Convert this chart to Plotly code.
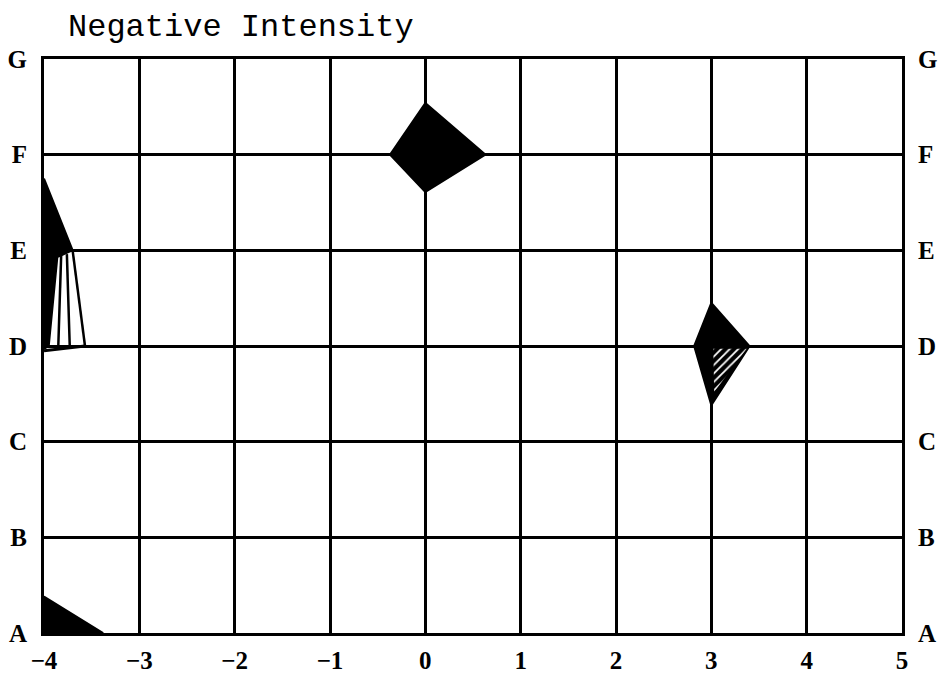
import plotly.graph_objects as go

# Axis categories and tick labels
x_ticks = [-4, -3, -2, -1, 0, 1, 2, 3, 4, 5]
y_levels = [0, 1, 2, 3, 4, 5, 6]
y_labels = ["A", "B", "C", "D", "E", "F", "G"]

# Diamond centred on (0, F)
diamond_f_x = [0.0, 0.63, 0.0, -0.37]
diamond_f_y = [5.54, 5.0, 4.61, 5.0]

# Diamond centred on (3, D)
diamond_d_x = [3.0, 3.40, 3.0, 2.82]
diamond_d_y = [3.45, 3.0, 2.38, 3.0]

# Hatched lower-right part of the D diamond
hatch_d_x = [3.02, 3.37, 3.03]
hatch_d_y = [2.97, 2.97, 2.52]

# Solid wedge on the left edge between E and D
wedge_e_x = [-4.0, -3.70, -3.86, -3.95, -4.0]
wedge_e_y = [4.75, 4.0, 3.93, 3.0, 2.97]

# Fan of strokes from E down to D on the left edge
fan_top_x = [-3.82, -3.76, -3.70]
fan_top_y = [3.95, 3.96, 4.0]
fan_bot_x = [-3.85, -3.73, -3.57]
fan_bot_y = [3.0, 3.0, 3.0]

# Base stroke of the fan
base_x = [-4.0, -3.57]
base_y = [2.95, 3.0]

# Corner triangle at (-4, A)
corner_x = [-4.0, -4.0, -3.38]
corner_y = [0.0, 0.38, 0.0]

fig = go.Figure()


def solid(xs, ys):
    fig.add_trace(go.Scatter(
        x=xs + xs[:1], y=ys + ys[:1], mode="lines", fill="toself",
        fillcolor="black", line=dict(color="black", width=2),
        hoverinfo="skip", showlegend=False))


solid(diamond_f_x, diamond_f_y)
solid(diamond_d_x, diamond_d_y)
solid(wedge_e_x, wedge_e_y)
solid(corner_x, corner_y)

fig.add_trace(go.Scatter(
    x=hatch_d_x + hatch_d_x[:1], y=hatch_d_y + hatch_d_y[:1],
    mode="lines", fill="toself", line=dict(width=0, color="black"),
    fillpattern=dict(shape="/", fgcolor="white", bgcolor="black",
                     size=6, solidity=0.3, fillmode="replace"),
    hoverinfo="skip", showlegend=False))

for x0, y0, x1, y1 in zip(fan_top_x, fan_top_y, fan_bot_x, fan_bot_y):
    fig.add_trace(go.Scatter(
        x=[x0, x1], y=[y0, y1], mode="lines",
        line=dict(color="black", width=2.5),
        hoverinfo="skip", showlegend=False))

fig.add_trace(go.Scatter(
    x=base_x, y=base_y, mode="lines", line=dict(color="black", width=3),
    hoverinfo="skip", showlegend=False))

# Invisible trace so the right-hand letter axis is drawn
fig.add_trace(go.Scatter(
    x=[x_ticks[0]], y=[y_levels[0]], yaxis="y2", mode="markers",
    marker=dict(opacity=0), hoverinfo="skip", showlegend=False))

label_font = dict(family="Liberation Serif", size=25, color="black", weight="bold")

fig.update_layout(
    width=942, height=680,
    margin=dict(l=44, r=40, t=59, b=47),
    paper_bgcolor="white", plot_bgcolor="white",
    title=dict(text="Negative Intensity", xref="container", yref="container",
               x=68 / 942, xanchor="left", y=1 - 25 / 680, yanchor="middle",
               font=dict(family="Liberation Mono", size=32, color="black")),
    xaxis=dict(range=[-4, 5], tickvals=x_ticks,
               ticktext=[f"\u2212{-v}" if v < 0 else str(v) for v in x_ticks],
               showgrid=True, gridcolor="black", gridwidth=3,
               showline=True, linecolor="black", linewidth=3, mirror=True,
               zeroline=False, ticks="", ticklabelstandoff=3, automargin=False,
               tickfont=label_font),
    yaxis=dict(range=[0, 6], tickvals=y_levels, ticktext=y_labels,
               showgrid=True, gridcolor="black", gridwidth=3,
               showline=True, linecolor="black", linewidth=3, mirror=True,
               zeroline=False, ticks="", ticklabelstandoff=9, automargin=False,
               tickfont=label_font),
    yaxis2=dict(range=[0, 6], tickvals=y_levels, ticktext=y_labels,
                overlaying="y", side="right", showgrid=False, zeroline=False,
                showline=False, ticks="", ticklabelstandoff=15, automargin=False,
                tickfont=label_font),
)

fig.write_html("out.html")
